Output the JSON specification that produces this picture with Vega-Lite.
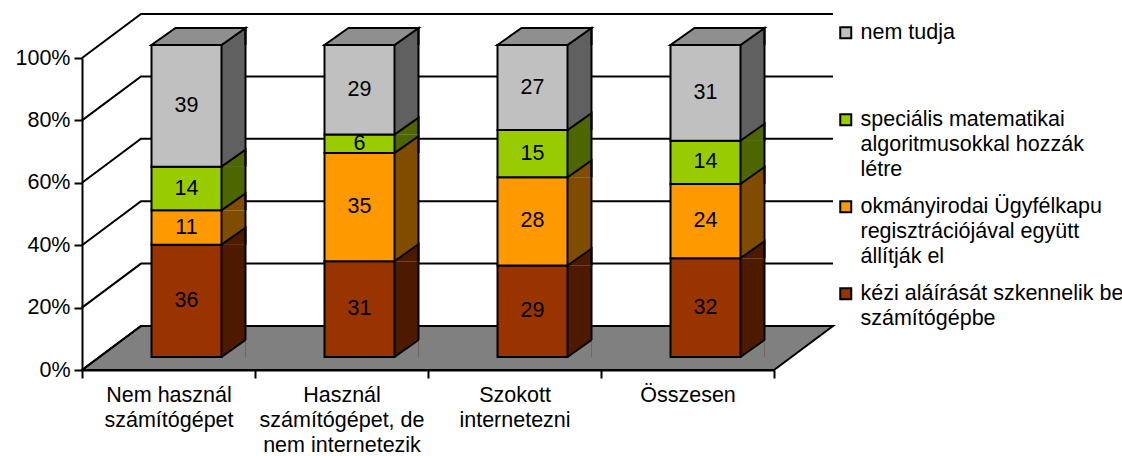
{
  "$schema": "https://vega.github.io/schema/vega-lite/v6.json",
  "width": 692,
  "height": 312,
  "autosize": {"type": "none"},
  "padding": {"left": 82, "top": 58, "right": 348, "bottom": 86},
  "background": "white",
  "config": {
    "font": "Liberation Sans",
    "view": {"stroke": null},
    "axis": {"domainColor": "black", "tickColor": "black", "labelColor": "black", "grid": false}
  },
  "resolve": {"scale": {"color": "independent"}},
  "datasets": {
    "main": [
      {"cat": "Nem használ számítógépet", "series": "kézi aláírását szkennelik be számítógépbe", "rank": 1, "value": 36},
      {"cat": "Nem használ számítógépet", "series": "okmányirodai Ügyfélkapu regisztrációjával együtt állítják el", "rank": 2, "value": 11},
      {"cat": "Nem használ számítógépet", "series": "speciális matematikai algoritmusokkal hozzák létre", "rank": 3, "value": 14},
      {"cat": "Nem használ számítógépet", "series": "nem tudja", "rank": 4, "value": 39},
      {"cat": "Használ számítógépet, de nem internetezik", "series": "kézi aláírását szkennelik be számítógépbe", "rank": 1, "value": 31},
      {"cat": "Használ számítógépet, de nem internetezik", "series": "okmányirodai Ügyfélkapu regisztrációjával együtt állítják el", "rank": 2, "value": 35},
      {"cat": "Használ számítógépet, de nem internetezik", "series": "speciális matematikai algoritmusokkal hozzák létre", "rank": 3, "value": 6},
      {"cat": "Használ számítógépet, de nem internetezik", "series": "nem tudja", "rank": 4, "value": 29},
      {"cat": "Szokott internetezni", "series": "kézi aláírását szkennelik be számítógépbe", "rank": 1, "value": 29},
      {"cat": "Szokott internetezni", "series": "okmányirodai Ügyfélkapu regisztrációjával együtt állítják el", "rank": 2, "value": 28},
      {"cat": "Szokott internetezni", "series": "speciális matematikai algoritmusokkal hozzák létre", "rank": 3, "value": 15},
      {"cat": "Szokott internetezni", "series": "nem tudja", "rank": 4, "value": 27},
      {"cat": "Összesen", "series": "kézi aláírását szkennelik be számítógépbe", "rank": 1, "value": 32},
      {"cat": "Összesen", "series": "okmányirodai Ügyfélkapu regisztrációjával együtt állítják el", "rank": 2, "value": 24},
      {"cat": "Összesen", "series": "speciális matematikai algoritmusokkal hozzák létre", "rank": 3, "value": 14},
      {"cat": "Összesen", "series": "nem tudja", "rank": 4, "value": 31}
    ],
    "grid": [{"v": 0}, {"v": 0.2}, {"v": 0.4}, {"v": 0.6}, {"v": 0.8}, {"v": 1}]
  },
  "data": {"name": "main"},
  "layer": [
    {
      "data": {"name": "grid"},
      "transform": [{"filter": "datum.v == 0"}],
      "mark": {"type": "point", "shape": "M0,0L0.92144,0L1,-0.05859L0.07856,-0.05859Z", "size": 2256004, "filled": true, "fill": "#808080", "stroke": "black", "strokeWidth": 2, "opacity": 1},
      "encoding": {
        "x": {"datum": "Nem használ számítógépet", "type": "nominal", "bandPosition": 0, "scale": {"type": "band", "domain": ["Nem használ számítógépet", "Használ számítógépet, de nem internetezik", "Szokott internetezni", "Összesen"], "paddingInner": 0, "paddingOuter": 0},
          "axis": {"title": null, "labelAngle": 0, "tickBand": "extent", "tickSize": 8, "tickWidth": 2, "domainWidth": 2, "labelFontSize": 21.5, "labelLineHeight": 25, "labelPadding": 6, "labelLimit": 300, "labelExpr": "datum.label == 'Nem használ számítógépet' ? ['Nem használ', 'számítógépet'] : datum.label == 'Használ számítógépet, de nem internetezik' ? ['Használ', 'számítógépet, de', 'nem internetezik'] : datum.label == 'Szokott internetezni' ? ['Szokott', 'internetezni'] : datum.label"}},
        "y": {"field": "v", "type": "quantitative", "scale": {"domain": [0, 1], "nice": false},
          "axis": {"title": null, "values": [0, 0.2, 0.4, 0.6, 0.8, 1], "format": ".0%", "tickSize": 8, "tickWidth": 2, "domainWidth": 2, "labelFontSize": 21.5, "labelPadding": 4}}
      }
    },
    {
      "data": {"name": "grid"},
      "mark": {"type": "point", "shape": "M0,0L1,-0.74576L12.7288,-0.74576", "size": 13924, "filled": false, "stroke": "black", "strokeWidth": 2, "opacity": 1},
      "encoding": {
        "x": {"datum": "Nem használ számítógépet", "type": "nominal", "bandPosition": 0, "scale": {"type": "band", "domain": ["Nem használ számítógépet", "Használ számítógépet, de nem internetezik", "Szokott internetezni", "Összesen"], "paddingInner": 0, "paddingOuter": 0},
          "axis": {"title": null, "labelAngle": 0, "tickBand": "extent", "tickSize": 8, "tickWidth": 2, "domainWidth": 2, "labelFontSize": 21.5, "labelLineHeight": 25, "labelPadding": 6, "labelLimit": 300, "labelExpr": "datum.label == 'Nem használ számítógépet' ? ['Nem használ', 'számítógépet'] : datum.label == 'Használ számítógépet, de nem internetezik' ? ['Használ', 'számítógépet, de', 'nem internetezik'] : datum.label == 'Szokott internetezni' ? ['Szokott', 'internetezni'] : datum.label"}},
        "y": {"field": "v", "type": "quantitative", "scale": {"domain": [0, 1], "nice": false},
          "axis": {"title": null, "values": [0, 0.2, 0.4, 0.6, 0.8, 1], "format": ".0%", "tickSize": 8, "tickWidth": 2, "domainWidth": 2, "labelFontSize": 21.5, "labelPadding": 4}}
      }
    },
    {
      "mark": {"type": "bar", "width": 24, "xOffset": 65, "yOffset": -13, "y2Offset": -13, "strokeWidth": 0},
      "encoding": {
        "x": {"field": "cat", "type": "nominal", "scale": {"type": "band", "domain": ["Nem használ számítógépet", "Használ számítógépet, de nem internetezik", "Szokott internetezni", "Összesen"], "paddingInner": 0, "paddingOuter": 0},
          "axis": {"title": null, "labelAngle": 0, "tickBand": "extent", "tickSize": 8, "tickWidth": 2, "domainWidth": 2, "labelFontSize": 21.5, "labelLineHeight": 25, "labelPadding": 6, "labelLimit": 300, "labelExpr": "datum.label == 'Nem használ számítógépet' ? ['Nem használ', 'számítógépet'] : datum.label == 'Használ számítógépet, de nem internetezik' ? ['Használ', 'számítógépet, de', 'nem internetezik'] : datum.label == 'Szokott internetezni' ? ['Szokott', 'internetezni'] : datum.label"}},
        "y": {"field": "value", "type": "quantitative", "stack": "normalize", "scale": {"domain": [0, 1], "nice": false},
          "axis": {"title": null, "values": [0, 0.2, 0.4, 0.6, 0.8, 1], "format": ".0%", "tickSize": 8, "tickWidth": 2, "domainWidth": 2, "labelFontSize": 21.5, "labelPadding": 4}},
        "color": {"field": "series", "type": "nominal", "scale": {"domain": ["nem tudja", "speciális matematikai algoritmusokkal hozzák létre", "okmányirodai Ügyfélkapu regisztrációjával együtt állítják el", "kézi aláírását szkennelik be számítógépbe"], "range": ["#606060", "#4D6600", "#804D00", "#4D1A00"]}, "legend": null},
        "order": {"field": "rank", "type": "quantitative"}
      }
    },
    {
      "mark": {"type": "point", "shape": "M0,0L1,-0.70833L1,0", "size": 2304, "filled": true, "stroke": "black", "strokeWidth": 2, "opacity": 1, "xOffset": 53, "yOffset": -13},
      "encoding": {
        "x": {"field": "cat", "type": "nominal", "scale": {"type": "band", "domain": ["Nem használ számítógépet", "Használ számítógépet, de nem internetezik", "Szokott internetezni", "Összesen"], "paddingInner": 0, "paddingOuter": 0},
          "axis": {"title": null, "labelAngle": 0, "tickBand": "extent", "tickSize": 8, "tickWidth": 2, "domainWidth": 2, "labelFontSize": 21.5, "labelLineHeight": 25, "labelPadding": 6, "labelLimit": 300, "labelExpr": "datum.label == 'Nem használ számítógépet' ? ['Nem használ', 'számítógépet'] : datum.label == 'Használ számítógépet, de nem internetezik' ? ['Használ', 'számítógépet, de', 'nem internetezik'] : datum.label == 'Szokott internetezni' ? ['Szokott', 'internetezni'] : datum.label"}},
        "y": {"field": "value", "type": "quantitative", "stack": "normalize", "scale": {"domain": [0, 1], "nice": false},
          "axis": {"title": null, "values": [0, 0.2, 0.4, 0.6, 0.8, 1], "format": ".0%", "tickSize": 8, "tickWidth": 2, "domainWidth": 2, "labelFontSize": 21.5, "labelPadding": 4}},
        "color": {"field": "series", "type": "nominal", "scale": {"domain": ["nem tudja", "speciális matematikai algoritmusokkal hozzák létre", "okmányirodai Ügyfélkapu regisztrációjával együtt állítják el", "kézi aláírását szkennelik be számítógépbe"], "range": ["#606060", "#4D6600", "#804D00", "#4D1A00"]}, "legend": null},
        "order": {"field": "rank", "type": "quantitative"}
      }
    },
    {
      "transform": [{"filter": "datum.rank == 1"}],
      "mark": {"type": "point", "shape": "M0,0L1,-0.70833L1,0", "size": 2304, "filled": true, "fill": "#808080", "strokeWidth": 0, "opacity": 1, "xOffset": 53, "yOffset": -13},
      "encoding": {
        "x": {"field": "cat", "type": "nominal", "scale": {"type": "band", "domain": ["Nem használ számítógépet", "Használ számítógépet, de nem internetezik", "Szokott internetezni", "Összesen"], "paddingInner": 0, "paddingOuter": 0},
          "axis": {"title": null, "labelAngle": 0, "tickBand": "extent", "tickSize": 8, "tickWidth": 2, "domainWidth": 2, "labelFontSize": 21.5, "labelLineHeight": 25, "labelPadding": 6, "labelLimit": 300, "labelExpr": "datum.label == 'Nem használ számítógépet' ? ['Nem használ', 'számítógépet'] : datum.label == 'Használ számítógépet, de nem internetezik' ? ['Használ', 'számítógépet, de', 'nem internetezik'] : datum.label == 'Szokott internetezni' ? ['Szokott', 'internetezni'] : datum.label"}},
        "y": {"datum": 0, "type": "quantitative", "scale": {"domain": [0, 1], "nice": false},
          "axis": {"title": null, "values": [0, 0.2, 0.4, 0.6, 0.8, 1], "format": ".0%", "tickSize": 8, "tickWidth": 2, "domainWidth": 2, "labelFontSize": 21.5, "labelPadding": 4}}
      }
    },
    {
      "transform": [{"filter": "datum.rank == 1"}],
      "mark": {"type": "point", "shape": "M0,0L1,-0.70833", "size": 2304, "filled": false, "stroke": "black", "strokeWidth": 2, "opacity": 1, "xOffset": 53, "yOffset": -13},
      "encoding": {
        "x": {"field": "cat", "type": "nominal", "scale": {"type": "band", "domain": ["Nem használ számítógépet", "Használ számítógépet, de nem internetezik", "Szokott internetezni", "Összesen"], "paddingInner": 0, "paddingOuter": 0},
          "axis": {"title": null, "labelAngle": 0, "tickBand": "extent", "tickSize": 8, "tickWidth": 2, "domainWidth": 2, "labelFontSize": 21.5, "labelLineHeight": 25, "labelPadding": 6, "labelLimit": 300, "labelExpr": "datum.label == 'Nem használ számítógépet' ? ['Nem használ', 'számítógépet'] : datum.label == 'Használ számítógépet, de nem internetezik' ? ['Használ', 'számítógépet, de', 'nem internetezik'] : datum.label == 'Szokott internetezni' ? ['Szokott', 'internetezni'] : datum.label"}},
        "y": {"datum": 0, "type": "quantitative", "scale": {"domain": [0, 1], "nice": false},
          "axis": {"title": null, "values": [0, 0.2, 0.4, 0.6, 0.8, 1], "format": ".0%", "tickSize": 8, "tickWidth": 2, "domainWidth": 2, "labelFontSize": 21.5, "labelPadding": 4}}
      }
    },
    {
      "transform": [{"filter": "datum.rank == 1"}],
      "mark": {"type": "bar", "width": 2, "fill": "black", "strokeWidth": 0, "xOffset": 77, "yOffset": -30, "y2Offset": -30},
      "encoding": {
        "x": {"field": "cat", "type": "nominal", "scale": {"type": "band", "domain": ["Nem használ számítógépet", "Használ számítógépet, de nem internetezik", "Szokott internetezni", "Összesen"], "paddingInner": 0, "paddingOuter": 0},
          "axis": {"title": null, "labelAngle": 0, "tickBand": "extent", "tickSize": 8, "tickWidth": 2, "domainWidth": 2, "labelFontSize": 21.5, "labelLineHeight": 25, "labelPadding": 6, "labelLimit": 300, "labelExpr": "datum.label == 'Nem használ számítógépet' ? ['Nem használ', 'számítógépet'] : datum.label == 'Használ számítógépet, de nem internetezik' ? ['Használ', 'számítógépet, de', 'nem internetezik'] : datum.label == 'Szokott internetezni' ? ['Szokott', 'internetezni'] : datum.label"}},
        "y": {"datum": 0, "type": "quantitative", "scale": {"domain": [0, 1], "nice": false},
          "axis": {"title": null, "values": [0, 0.2, 0.4, 0.6, 0.8, 1], "format": ".0%", "tickSize": 8, "tickWidth": 2, "domainWidth": 2, "labelFontSize": 21.5, "labelPadding": 4}},
        "y2": {"datum": 1}
      }
    },
    {
      "transform": [{"filter": "datum.rank == 1"}],
      "mark": {"type": "point", "shape": "M0,0L0.74468,0L1,-0.18085L0.25532,-0.18085Z", "size": 35344, "filled": true, "fill": "#8F8F8F", "stroke": "black", "strokeWidth": 2, "opacity": 1, "xOffset": -17, "yOffset": -13},
      "encoding": {
        "x": {"field": "cat", "type": "nominal", "scale": {"type": "band", "domain": ["Nem használ számítógépet", "Használ számítógépet, de nem internetezik", "Szokott internetezni", "Összesen"], "paddingInner": 0, "paddingOuter": 0},
          "axis": {"title": null, "labelAngle": 0, "tickBand": "extent", "tickSize": 8, "tickWidth": 2, "domainWidth": 2, "labelFontSize": 21.5, "labelLineHeight": 25, "labelPadding": 6, "labelLimit": 300, "labelExpr": "datum.label == 'Nem használ számítógépet' ? ['Nem használ', 'számítógépet'] : datum.label == 'Használ számítógépet, de nem internetezik' ? ['Használ', 'számítógépet, de', 'nem internetezik'] : datum.label == 'Szokott internetezni' ? ['Szokott', 'internetezni'] : datum.label"}},
        "y": {"datum": 1, "type": "quantitative", "scale": {"domain": [0, 1], "nice": false},
          "axis": {"title": null, "values": [0, 0.2, 0.4, 0.6, 0.8, 1], "format": ".0%", "tickSize": 8, "tickWidth": 2, "domainWidth": 2, "labelFontSize": 21.5, "labelPadding": 4}}
      }
    },
    {
      "mark": {"type": "bar", "width": 70, "xOffset": 18, "yOffset": -13, "y2Offset": -13, "stroke": "black", "strokeWidth": 2},
      "encoding": {
        "x": {"field": "cat", "type": "nominal", "scale": {"type": "band", "domain": ["Nem használ számítógépet", "Használ számítógépet, de nem internetezik", "Szokott internetezni", "Összesen"], "paddingInner": 0, "paddingOuter": 0},
          "axis": {"title": null, "labelAngle": 0, "tickBand": "extent", "tickSize": 8, "tickWidth": 2, "domainWidth": 2, "labelFontSize": 21.5, "labelLineHeight": 25, "labelPadding": 6, "labelLimit": 300, "labelExpr": "datum.label == 'Nem használ számítógépet' ? ['Nem használ', 'számítógépet'] : datum.label == 'Használ számítógépet, de nem internetezik' ? ['Használ', 'számítógépet, de', 'nem internetezik'] : datum.label == 'Szokott internetezni' ? ['Szokott', 'internetezni'] : datum.label"}},
        "y": {"field": "value", "type": "quantitative", "stack": "normalize", "scale": {"domain": [0, 1], "nice": false},
          "axis": {"title": null, "values": [0, 0.2, 0.4, 0.6, 0.8, 1], "format": ".0%", "tickSize": 8, "tickWidth": 2, "domainWidth": 2, "labelFontSize": 21.5, "labelPadding": 4}},
        "color": {
          "field": "series", "type": "nominal",
          "scale": {"domain": ["nem tudja", "speciális matematikai algoritmusokkal hozzák létre", "okmányirodai Ügyfélkapu regisztrációjával együtt állítják el", "kézi aláírását szkennelik be számítógépbe"], "range": ["#C0C0C0", "#99CC00", "#FF9900", "#993300"]},
          "legend": {
            "title": null, "orient": "none", "legendX": 753, "legendY": -36, "padding": 0,
            "symbolType": "square", "symbolSize": 121, "symbolStrokeColor": "black", "symbolStrokeWidth": 2,
            "labelFontSize": 21.5, "labelColor": "black", "labelLimit": 400, "labelOffset": 4, "labelBaseline": "top",
            "gridAlign": "all", "rowPadding": 14,
            "labelExpr": "datum.label == 'speciális matematikai algoritmusokkal hozzák létre' ? ['speciális matematikai', 'algoritmusokkal hozzák', 'létre'] : datum.label == 'okmányirodai Ügyfélkapu regisztrációjával együtt állítják el' ? ['okmányirodai Ügyfélkapu', 'regisztrációjával együtt', 'állítják el'] : datum.label == 'kézi aláírását szkennelik be számítógépbe' ? ['kézi aláírását szkennelik be', 'számítógépbe'] : datum.label",
            "encode": {"labels": {"update": {"dy": {"value": -11}, "lineHeight": {"value": 25}}}}
          }
        },
        "order": {"field": "rank", "type": "quantitative"}
      }
    },
    {
      "mark": {"type": "text", "fontSize": 21.5, "color": "black", "xOffset": 18, "yOffset": -13},
      "encoding": {
        "x": {"field": "cat", "type": "nominal", "scale": {"type": "band", "domain": ["Nem használ számítógépet", "Használ számítógépet, de nem internetezik", "Szokott internetezni", "Összesen"], "paddingInner": 0, "paddingOuter": 0},
          "axis": {"title": null, "labelAngle": 0, "tickBand": "extent", "tickSize": 8, "tickWidth": 2, "domainWidth": 2, "labelFontSize": 21.5, "labelLineHeight": 25, "labelPadding": 6, "labelLimit": 300, "labelExpr": "datum.label == 'Nem használ számítógépet' ? ['Nem használ', 'számítógépet'] : datum.label == 'Használ számítógépet, de nem internetezik' ? ['Használ', 'számítógépet, de', 'nem internetezik'] : datum.label == 'Szokott internetezni' ? ['Szokott', 'internetezni'] : datum.label"}},
        "y": {"field": "value", "type": "quantitative", "stack": "normalize", "bandPosition": 0.5, "scale": {"domain": [0, 1], "nice": false},
          "axis": {"title": null, "values": [0, 0.2, 0.4, 0.6, 0.8, 1], "format": ".0%", "tickSize": 8, "tickWidth": 2, "domainWidth": 2, "labelFontSize": 21.5, "labelPadding": 4}},
        "detail": {"field": "series", "type": "nominal"},
        "text": {"field": "value", "type": "quantitative"},
        "order": {"field": "rank", "type": "quantitative"}
      }
    }
  ]
}
